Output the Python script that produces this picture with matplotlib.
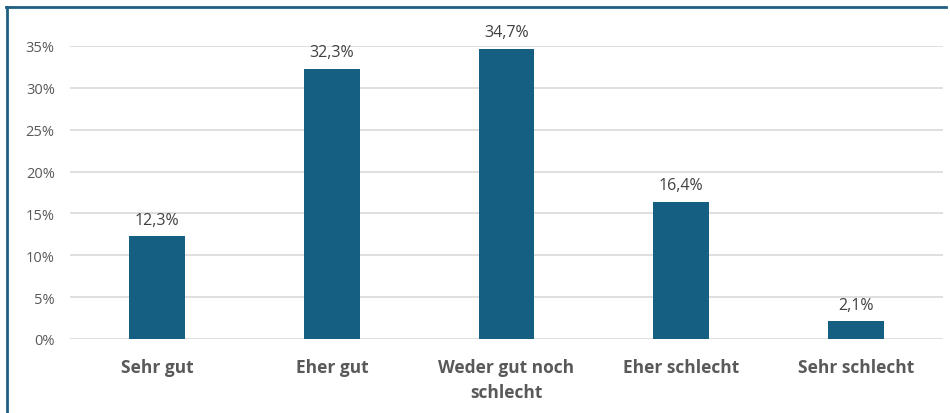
import matplotlib.pyplot as plt
from matplotlib.lines import Line2D
from matplotlib.ticker import FuncFormatter

categories = ["Sehr gut", "Eher gut", "Weder gut noch\nschlecht", "Eher schlecht", "Sehr schlecht"]
values = [12.3, 32.3, 34.7, 16.4, 2.1]
value_labels = ["12,3%", "32,3%", "34,7%", "16,4%", "2,1%"]
yticks = [0, 5, 10, 15, 20, 25, 30, 35]

plt.rcParams['font.family'] = ['Open Sans', 'DejaVu Sans']

W, H = 950, 414
fig = plt.figure(figsize=(9.5, 4.14), dpi=100)
ax = fig.add_axes([70 / W, 74 / H, 873 / W, (340 - 47) / H])

x = range(len(categories))
bars = ax.bar(x, values, width=0.32, color="#156082", zorder=3)
for b, lab in zip(bars, value_labels):
    ax.text(b.get_x() + b.get_width() / 2, b.get_height() + 1.0, lab,
            ha="center", va="bottom", fontsize=11.5, color="#404040", clip_on=False)

ax.set_xlim(-0.5, len(categories) - 0.5)
ax.set_ylim(0, 35)
ax.set_yticks(yticks)
ax.yaxis.set_major_formatter(FuncFormatter(lambda v, p: f"{v:.0f}%"))
ax.grid(axis="y", color="#D9D9D9", linewidth=1.2, zorder=0)
ax.set_xticks(list(x))
ax.set_xticklabels(categories, fontsize=12.5, fontweight="bold", color="#595959", linespacing=1.45)
ax.tick_params(axis="y", length=0, labelsize=10.5, labelcolor="#595959", pad=11)
ax.tick_params(axis="x", length=0, pad=14)
for s in ax.spines.values():
    s.set_visible(False)
for lab in ax.get_xticklabels():
    lab.set_verticalalignment("top")

# Rahmen oben und links
fig.add_artist(Line2D([6 / W, 946 / W], [1 - 7.5 / H, 1 - 7.5 / H], color="#1F5F82", linewidth=2))
fig.add_artist(Line2D([6.5 / W, 6.5 / W], [0, 1 - 7.5 / H], color="#1F5F82", linewidth=2))

fig.savefig("out.png", dpi=100)
